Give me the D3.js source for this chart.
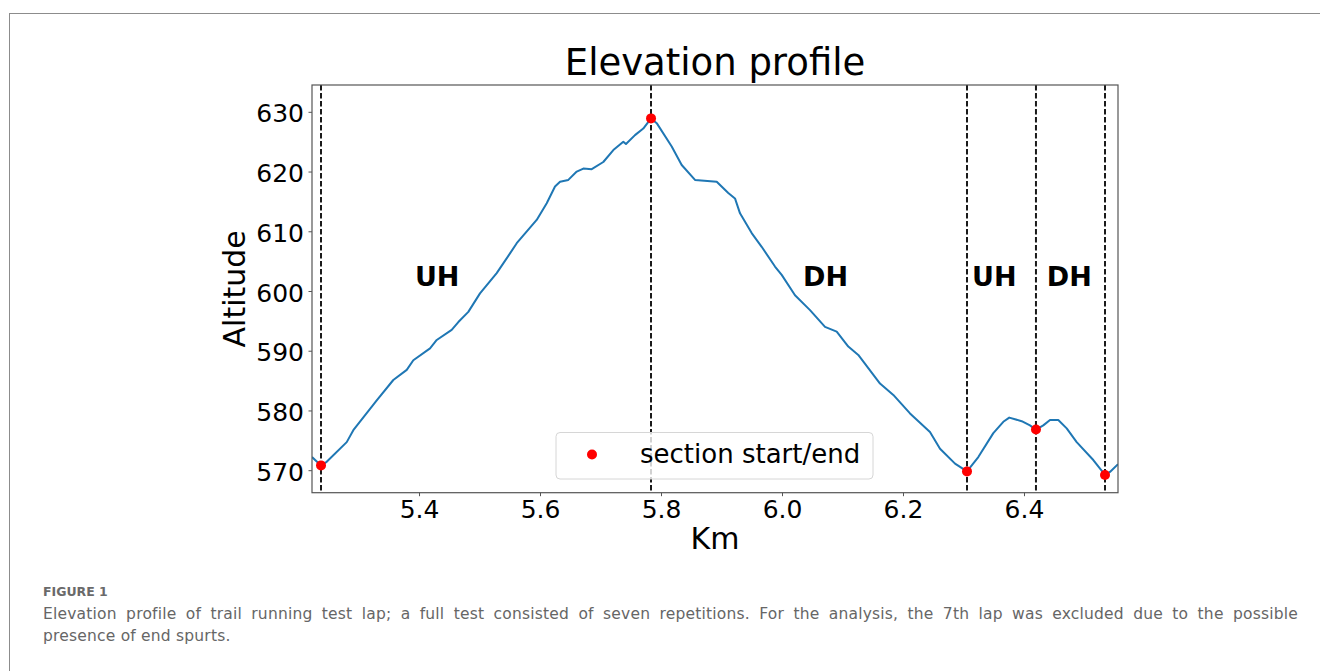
<!DOCTYPE html>
<html lang="en">
<head>
<meta charset="UTF-8">
<title>Elevation profile</title>
<script src="https://cdn.jsdelivr.net/npm/d3@7"></script>
<style>
    html, body {
        margin: 0;
        padding: 0;
        background: #fff;
        width: 1320px;
        height: 671px;
        overflow: hidden;
    }
    #frame {
        position: absolute;
        left: 9px;
        top: 13px;
        width: 1330px;
        height: 700px;
        border-left: 1.5px solid #8c8c8c;
        border-top: 1.5px solid #8c8c8c;
    }
    #chart {
        position: absolute;
        left: 0;
        top: 0;
    }
    .fig-label {
        position: absolute;
        left: 43px;
        top: 585px;
        font-family: "DejaVu Sans", sans-serif;
        font-weight: bold;
        font-size: 12.5px;
        line-height: 14px;
        color: #6a6a6a;
    }
    .caption {
        position: absolute;
        left: 43px;
        width: 1255px;
        font-family: "DejaVu Sans", sans-serif;
        font-size: 15.5px;
        letter-spacing: 0.2px;
        line-height: 22px;
        color: #666;
        white-space: nowrap;
    }
    .line1 {
        top: 603px;
        text-align: justify;
        text-align-last: justify;
        white-space: normal;
    }
    .line2 {
        top: 625px;
    }
</style>
</head>
<body>
<div id="frame"></div>
<svg id="chart" width="1320" height="671"></svg>
<div class="fig-label">FIGURE 1</div>
<div class="caption line1">Elevation profile of trail running test lap; a full test consisted of seven repetitions. For the analysis, the 7th lap was excluded due to the possible</div>
<div class="caption line2">presence of end spurts.</div>

<script>
    // elevation profile (km, m)
    const km = [5.2231, 5.2380, 5.2474, 5.2805, 5.2914, 5.3301, 5.3575, 5.3797, 5.3906, 5.4182,
        5.4293, 5.4540, 5.4650, 5.4815, 5.5008, 5.5284, 5.5504, 5.5615, 5.5945, 5.6111,
        5.6248, 5.6331, 5.6468, 5.6607, 5.6716, 5.6855, 5.7046, 5.7212, 5.7377, 5.7421,
        5.7570, 5.7707, 5.7835, 5.7929, 5.8177, 5.8342, 5.8562, 5.8921, 5.9112, 5.9223,
        5.9306, 5.9499, 5.9664, 5.9884, 5.9995, 6.0215, 6.0463, 6.0711, 6.0904, 6.1096,
        6.1261, 6.1620, 6.1840, 6.2116, 6.2446, 6.2612, 6.2860, 6.3058, 6.3245, 6.3493,
        6.3658, 6.3757, 6.3962, 6.4099, 6.4198, 6.4319, 6.4430, 6.4567, 6.4706, 6.4871,
        6.5146, 6.5339, 6.5421, 6.5554];
    const altitude = [572.2, 570.8, 571.4, 574.7, 576.7, 581.7, 585.1, 586.8, 588.4, 590.4,
        591.8, 593.5, 594.8, 596.5, 599.6, 603.0, 606.3, 608.0, 611.9, 614.7,
        617.5, 618.3, 618.6, 620.0, 620.5, 620.4, 621.6, 623.6, 625.0, 624.6,
        626.1, 627.2, 628.9, 628.1, 624.2, 621.1, 618.6, 618.3, 616.4, 615.5,
        613.0, 609.7, 607.4, 604.1, 602.7, 599.3, 596.8, 594.0, 593.2, 590.7,
        589.3, 584.5, 582.6, 579.5, 576.4, 573.6, 571.1, 569.8, 572.2, 576.2,
        578.1, 578.8, 578.2, 577.5, 576.8, 577.5, 578.4, 578.4, 577.0, 574.7,
        571.7, 569.2, 569.7, 571.0];

    // section boundaries
    const sectionKm = [5.238, 5.7835, 6.3058, 6.4198, 6.5339];
    const sectionAlt = [570.8, 628.9, 569.8, 576.8, 569.2];

    const sectionNames = ["UH", "DH", "UH", "DH"];
    const sectionNameKm = [5.430, 6.072, 6.351, 6.475];
    const sectionNameAlt = 600.9;

    const xTicks = [5.4, 5.6, 5.8, 6.0, 6.2, 6.4];
    const yTicks = [570, 580, 590, 600, 610, 620, 630];

    const font = "'DejaVu Sans', sans-serif";
    const plot = {left: 312, right: 1118, top: 85, bottom: 492.7};

    const svg = d3.select("#chart");

    const x = d3.scaleLinear().domain([5.2231, 6.5554]).range([plot.left, plot.right]);
    const y = d3.scaleLinear().domain([566.23, 634.49]).range([plot.bottom, plot.top]);

    svg.append("defs").append("clipPath").attr("id", "plotclip")
        .append("rect")
        .attr("x", plot.left).attr("y", plot.top)
        .attr("width", plot.right - plot.left).attr("height", plot.bottom - plot.top);

    // axes
    const xAxis = svg.append("g")
        .attr("transform", `translate(0,${plot.bottom})`)
        .call(d3.axisBottom(x).tickValues(xTicks).tickFormat(d3.format(".1f")).tickSize(3.5).tickSizeOuter(0));
    xAxis.select(".domain").remove();
    xAxis.selectAll(".tick line").attr("stroke", "#555");
    xAxis.selectAll(".tick text")
        .attr("y", 25.5).attr("dy", 0)
        .attr("font-family", font).attr("font-size", 25).attr("fill", "#000");

    const yAxis = svg.append("g")
        .attr("transform", `translate(${plot.left},0)`)
        .call(d3.axisLeft(y).tickValues(yTicks).tickSize(3.5).tickPadding(4.5).tickSizeOuter(0));
    yAxis.select(".domain").remove();
    yAxis.selectAll(".tick line").attr("stroke", "#555");
    yAxis.selectAll(".tick text")
        .attr("dy", "0.4em")
        .attr("font-family", font).attr("font-size", 25).attr("fill", "#000");

    const g = svg.append("g").attr("clip-path", "url(#plotclip)");

    // profile
    g.append("path")
        .datum(km.map((k, i) => [k, altitude[i]]))
        .attr("fill", "none")
        .attr("stroke", "#1f77b4")
        .attr("stroke-width", 2)
        .attr("stroke-linejoin", "round")
        .attr("d", d3.line().x(d => x(d[0])).y(d => y(d[1])));

    // section boundaries
    g.selectAll(".vline")
        .data(sectionKm)
        .enter()
        .append("line")
        .attr("class", "vline")
        .attr("x1", d => x(d)).attr("x2", d => x(d))
        .attr("y1", plot.top).attr("y2", plot.bottom)
        .attr("stroke", "#1a1a1a")
        .attr("stroke-width", 2)
        .attr("stroke-dasharray", "5.5,2.5");

    g.selectAll(".dot")
        .data(sectionKm)
        .enter()
        .append("circle")
        .attr("class", "dot")
        .attr("cx", d => x(d))
        .attr("cy", (d, i) => y(sectionAlt[i]))
        .attr("r", 5)
        .attr("fill", "#ff0000");

    svg.selectAll(".secname")
        .data(sectionNames)
        .enter()
        .append("text")
        .attr("class", "secname")
        .attr("x", (d, i) => x(sectionNameKm[i]))
        .attr("y", y(sectionNameAlt))
        .attr("text-anchor", "middle")
        .attr("font-family", font)
        .attr("font-weight", "bold")
        .attr("font-size", 27)
        .text(d => d);

    // frame
    svg.append("rect")
        .attr("x", plot.left).attr("y", plot.top)
        .attr("width", plot.right - plot.left).attr("height", plot.bottom - plot.top)
        .attr("fill", "none")
        .attr("stroke", "#555")
        .attr("stroke-width", 1.2);

    // legend
    const legend = svg.append("g");
    legend.append("rect")
        .attr("x", 556).attr("y", 432.5)
        .attr("width", 317).attr("height", 46.5)
        .attr("rx", 4)
        .attr("fill", "#fff").attr("fill-opacity", 0.8)
        .attr("stroke", "#d6d6d6").attr("stroke-width", 1);
    legend.append("circle")
        .attr("cx", 592).attr("cy", 454.5).attr("r", 5)
        .attr("fill", "#ff0000");
    legend.append("text")
        .attr("x", 640).attr("y", 463)
        .attr("font-family", font).attr("font-size", 26)
        .text("section start/end");

    // titles
    svg.append("text")
        .attr("x", (plot.left + plot.right) / 2).attr("y", 75)
        .attr("text-anchor", "middle")
        .attr("font-family", font).attr("font-size", 37)
        .text("Elevation profile");

    svg.append("text")
        .attr("x", (plot.left + plot.right) / 2).attr("y", 548.5)
        .attr("text-anchor", "middle")
        .attr("font-family", font).attr("font-size", 30)
        .text("Km");

    svg.append("text")
        .attr("transform", `translate(245,${(plot.top + plot.bottom) / 2}) rotate(-90)`)
        .attr("text-anchor", "middle")
        .attr("font-family", font).attr("font-size", 30)
        .text("Altitude");
</script>
</body>
</html>
